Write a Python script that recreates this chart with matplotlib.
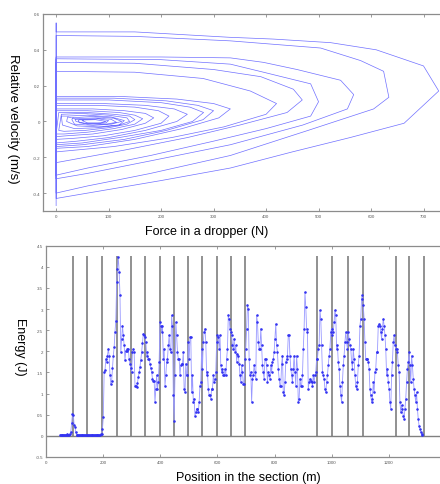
import numpy as np
import matplotlib
matplotlib.use("Agg")
import matplotlib.pyplot as plt

plt.rcParams['font.family'] = ['Liberation Sans', 'DejaVu Sans']

# ---------------- Top chart: phase trajectory (force vs relative velocity) -------------
start_force = [0, 0]
start_velocity = [-0.47, 0.55]

loop1_force = [0, 150, 330, 414, 523, 610, 700, 729, 663, 560, 450, 332, 200, 80, 0]
loop1_velocity = [0.50, 0.50, 0.47, 0.46, 0.44, 0.40, 0.31, 0.17, -0.01, -0.09, -0.17, -0.26, -0.33, -0.39, -0.43]
loop2_force = [0, 150, 332, 504, 580, 624, 634, 605, 480, 332, 180, 60, 0]
loop2_velocity = [0.48, 0.475, 0.45, 0.41, 0.34, 0.28, 0.135, 0.07, -0.05, -0.19, -0.29, -0.36, -0.40]
loop3_force = [0, 200, 332, 395, 459, 542, 567, 555, 470, 332, 180, 60, 0]
loop3_velocity = [0.36, 0.36, 0.355, 0.33, 0.29, 0.23, 0.15, 0.07, -0.02, -0.13, -0.22, -0.29, -0.32]
loop4_force = [0, 200, 332, 395, 485, 500, 485, 400, 300, 180, 60, 0]
loop4_velocity = [0.35, 0.345, 0.32, 0.275, 0.21, 0.11, 0.03, -0.04, -0.11, -0.19, -0.26, -0.30]
loop5_force = [0, 150, 300, 390, 452, 469, 440, 350, 250, 130, 0]
loop5_velocity = [0.33, 0.325, 0.29, 0.25, 0.18, 0.12, 0.05, -0.02, -0.09, -0.16, -0.23]
loop6_force = [0, 150, 280, 370, 420, 400, 320, 220, 110, 0]
loop6_velocity = [0.28, 0.275, 0.24, 0.17, 0.10, 0.04, -0.03, -0.09, -0.14, -0.17]
loop7_force = [0, 120, 230, 300, 332, 310, 240, 150, 60, 0]
loop7_velocity = [0.14, 0.14, 0.125, 0.10, 0.07, 0.02, -0.04, -0.10, -0.14, -0.15]
loop8_force = [0, 110, 210, 270, 300, 280, 210, 130, 50, 0]
loop8_velocity = [0.13, 0.13, 0.115, 0.09, 0.06, 0.01, -0.05, -0.10, -0.13, -0.14]
loop9_force = [0, 100, 200, 255, 281, 260, 200, 120, 50, 0]
loop9_velocity = [0.12, 0.12, 0.105, 0.08, 0.05, 0.0, -0.05, -0.09, -0.12, -0.13]
loop10_force = [0, 90, 170, 225, 250, 230, 170, 100, 40, 0]
loop10_velocity = [0.10, 0.10, 0.09, 0.07, 0.04, 0.0, -0.05, -0.09, -0.11, -0.12]
loop11_force = [0, 80, 150, 195, 215, 200, 150, 90, 30, 0]
loop11_velocity = [0.09, 0.09, 0.08, 0.06, 0.03, -0.01, -0.05, -0.08, -0.095, -0.10]
loop12_force = [0, 70, 130, 170, 186, 170, 125, 70, 20, 0]
loop12_velocity = [0.07, 0.07, 0.06, 0.045, 0.02, -0.01, -0.045, -0.07, -0.08, -0.085]
loop13_force = [0, 60, 120, 150, 165, 150, 110, 60, 15, 0]
loop13_velocity = [0.06, 0.06, 0.05, 0.035, 0.015, -0.015, -0.04, -0.06, -0.07, -0.07]
loop14_force = [5, 60, 110, 140, 150, 135, 100, 55, 15, 5]
loop14_velocity = [0.05, 0.05, 0.04, 0.03, 0.01, -0.015, -0.035, -0.05, -0.055, -0.05]
core1_force = [10, 50, 100, 135, 140, 120, 80, 35, 12, 10]
core1_velocity = [0.04, 0.045, 0.035, 0.02, 0.0, -0.02, -0.035, -0.04, -0.02, 0.03]
core2_force = [20, 60, 105, 130, 120, 80, 40, 20, 22]
core2_velocity = [0.03, 0.035, 0.025, 0.005, -0.02, -0.03, -0.025, 0.0, 0.025]
core3_force = [30, 70, 110, 125, 105, 70, 35, 30, 32]
core3_velocity = [0.02, 0.028, 0.018, 0.0, -0.015, -0.022, -0.015, 0.01, 0.02]
core4_force = [35, 75, 105, 115, 95, 60, 38, 36]
core4_velocity = [0.015, 0.02, 0.012, -0.005, -0.015, -0.015, 0.0, 0.012]
core5_force = [40, 80, 100, 95, 70, 45, 42, 45]
core5_velocity = [0.01, 0.015, 0.005, -0.008, -0.012, -0.008, 0.005, 0.01]
core6_force = [50, 75, 95, 85, 60, 50, 52]
core6_velocity = [0.008, 0.01, 0.0, -0.008, -0.008, 0.004, 0.007]

top_force_ticks = [0, 100, 200, 300, 400, 500, 600, 700]
top_force_labels = ["0", "100", "200", "300", "400", "500", "600", "700"]
top_vel_ticks = [-0.4, -0.2, 0, 0.2, 0.4, 0.6]
top_vel_labels = ["-0.4", "-0.2", "0", "0.2", "0.4", "0.6"]

# ---------------- Bottom chart: energy along the section ------------------------------
energy_start = 49.0      # m, first sample
energy_step = 2.916      # m, sampling step
energy = [
    0.02, 0.03, 0.02, 0.03, 0.02, 0.03, 0.03, 0.02, 0.03, 0.04, 0.03, 0.03, 0.05,
    0.10, 0.30, 0.52, 0.50, 0.25, 0.22, 0.08, 0.03,
    0.02, 0.01, 0.02, 0.02, 0.01, 0.02, 0.02, 0.01, 0.02, 0.02, 0.01, 0.02, 0.02,
    0.01, 0.02, 0.02, 0.01, 0.02, 0.02, 0.01, 0.02,
    0.02, 0.03, 0.02, 0.02, 0.03, 0.02, 0.02, 0.04, 0.05, 0.17,
    0.45, 1.51, 1.55, 1.82, 1.75, 1.90, 2.06, 1.90, 1.43, 1.23, 1.30, 1.60,
    1.90, 2.10, 2.46, 2.73, 3.64, 3.96, 4.23, 3.88, 3.33, 1.98, 2.30, 2.61,
    2.38, 2.14, 1.79, 2.02, 2.02, 2.06, 2.06, 1.82, 1.71, 1.60, 1.51, 1.98,
    2.06, 1.98, 1.19, 1.19, 1.15, 1.25, 1.39, 1.50, 1.63, 1.80, 1.98, 2.20,
    2.42, 2.38, 2.34, 2.22, 1.90, 1.98, 1.82, 1.82, 1.71, 1.60, 1.51, 1.35,
    1.31, 1.31, 0.80, 1.11, 1.43, 1.11, 1.27, 1.75, 2.69, 2.61, 2.46, 2.61,
    1.82, 2.06, 1.19, 1.43, 1.75, 1.82, 2.14, 2.38, 2.06, 1.98, 2.85, 2.60,
    0.96, 0.36, 1.43, 2.69, 2.38, 1.98, 1.82, 1.82, 1.43, 1.67, 1.71, 1.71,
    1.98, 1.11, 1.03, 1.71, 1.43, 1.43, 2.22, 1.82, 2.34, 2.34, 1.03, 1.43,
    0.80, 0.88, 0.48, 0.56, 0.64, 0.64, 0.56, 0.80, 1.19, 1.27, 2.06, 1.59,
    2.22, 2.46, 2.54, 2.22, 1.43, 1.51, 1.11, 0.96, 0.96, 0.88, 1.11, 1.11,
    1.43, 1.27, 1.35, 1.51, 2.22, 2.38, 2.34, 2.06, 2.38, 1.67, 1.51, 1.59,
    1.43, 1.43, 1.59, 1.43, 1.82, 2.06, 2.85, 2.77, 2.54, 2.46, 2.38, 2.14,
    2.06, 2.30, 1.98, 2.14, 1.75, 1.94, 1.90, 1.71, 1.43, 1.27, 1.67, 1.51,
    1.23, 1.23, 1.82, 2.06, 2.54, 3.09, 3.01, 1.82, 1.43, 1.51, 0.80, 1.35,
    1.43, 1.67, 1.51, 1.35, 2.85, 2.69, 2.22, 2.06, 2.06, 2.54, 2.14, 1.67,
    1.51, 1.35, 1.82, 1.82, 1.67, 1.27, 1.51, 1.43, 1.35, 1.67, 1.51, 1.75,
    1.82, 1.98, 2.30, 2.65, 2.14, 1.98, 1.59, 1.35, 1.19, 1.19, 1.71, 1.90,
    1.03, 0.96, 1.27, 1.75, 1.82, 1.90, 2.38, 2.38, 1.90, 1.59, 1.43, 1.27,
    1.59, 1.90, 1.51, 1.19, 1.90, 1.59, 0.80, 0.88, 1.35, 1.19, 1.19, 1.43,
    2.06, 2.54, 3.40, 3.05, 2.54, 2.46, 1.11, 1.27, 1.35, 1.31, 1.27, 1.19,
    1.43, 1.27, 1.43, 1.51, 1.82, 1.82, 2.06, 2.14, 2.97, 2.77, 2.14, 1.51,
    1.43, 1.35, 1.11, 1.03, 1.27, 1.43, 1.67, 1.90, 2.06, 2.46, 2.54, 2.38,
    2.46, 2.69, 2.97, 2.85, 2.06, 2.14, 1.75, 1.59, 1.19, 0.96, 0.80, 1.27,
    1.67, 1.90, 2.22, 2.46, 2.22, 2.06, 2.46, 2.30, 2.14, 2.06, 1.75, 1.59,
    2.06, 1.82, 1.43, 1.19, 1.11, 1.27, 1.67, 1.90, 2.61, 2.77, 3.25, 3.33,
    3.09, 2.77, 2.22, 1.82, 1.82, 1.82, 1.75, 1.59, 1.11, 0.96, 0.80, 0.88,
    1.27, 1.03, 1.51, 1.59, 1.98, 1.98, 2.61, 2.65, 2.61, 2.46, 2.30, 2.54,
    2.77, 2.61, 2.38, 2.06, 1.43, 1.59, 1.27, 1.11, 0.80, 0.64, 1.43, 1.75,
    2.22, 2.38, 2.14, 2.06, 2.06, 1.98, 1.67, 1.51, 0.80, 0.56, 0.72, 0.64,
    0.48, 0.40, 0.64, 0.88, 1.27, 1.59, 1.75, 1.98, 1.67, 1.27, 1.90, 1.67,
    1.35, 1.11, 0.96, 0.80, 1.03, 0.64, 0.40, 0.24, 0.17, 0.09, 0.05, 0.01,
]
dropper_positions = [95, 145, 197, 247, 297, 348, 398, 448, 498, 547, 597, 646, 696,
                     947, 1002, 1057, 1110, 1224, 1272, 1322]
dropper_top = 4.25

bot_pos_ticks = [0, 200, 400, 600, 800, 1000, 1200]
bot_pos_labels = ["0", "200", "400", "600", "800", "1000", "1200"]
bot_energy_ticks = [-0.5, 0, 0.5, 1, 1.5, 2, 2.5, 3, 3.5, 4, 4.5]
bot_energy_labels = ["-0.5", "0", "0.5", "1", "1.5", "2", "2.5", "3", "3.5", "4", "4.5"]

# ---------------- Figure ------------------------------------------------------------
W, H = 440, 485
fig = plt.figure(figsize=(W / 100, H / 100), dpi=100)
fig.patch.set_facecolor('white')

spine_col = (0.55, 0.55, 0.55)
tick_col = (0.35, 0.35, 0.35)


def style_axes(ax):
    for side in ['top', 'bottom', 'left', 'right']:
        ax.spines[side].set_color(spine_col)
        ax.spines[side].set_linewidth(0.9)
    ax.tick_params(direction='in', length=2, width=0.6, colors=spine_col,
                   labelsize=3.2, labelcolor=tick_col, pad=2)
    ax.tick_params(axis='x', top=True, labeltop=False)


# Top axes
ax1 = fig.add_axes([43 / W, 1 - 212 / H, 412 / W, 197 / H])
force_path = list(start_force)
vel_path = list(start_velocity)
for f, v in [(loop1_force, loop1_velocity), (loop2_force, loop2_velocity),
             (loop3_force, loop3_velocity), (loop4_force, loop4_velocity),
             (loop5_force, loop5_velocity), (loop6_force, loop6_velocity),
             (loop7_force, loop7_velocity), (loop8_force, loop8_velocity),
             (loop9_force, loop9_velocity), (loop10_force, loop10_velocity),
             (loop11_force, loop11_velocity), (loop12_force, loop12_velocity),
             (loop13_force, loop13_velocity), (loop14_force, loop14_velocity),
             (core1_force, core1_velocity), (core2_force, core2_velocity),
             (core3_force, core3_velocity), (core4_force, core4_velocity),
             (core5_force, core5_velocity), (core6_force, core6_velocity)]:
    force_path += f
    vel_path += v
ax1.plot(force_path, vel_path, color=(0.2, 0.2, 1.0), lw=0.5, alpha=0.7)
ax1.set_xlim(-25, 760)
ax1.set_ylim(-0.5, 0.6)
ax1.set_xticks(top_force_ticks)
ax1.set_xticklabels(top_force_labels)
ax1.set_yticks(top_vel_ticks)
ax1.set_yticklabels(top_vel_labels)
style_axes(ax1)

# Bottom axes
ax2 = fig.add_axes([46 / W, 1 - 458 / H, 400 / W, 211.3 / H])
ax2.axhline(0, color=(0.5, 0.5, 0.5), lw=1.0, zorder=1)
ax2.vlines(dropper_positions, 0, dropper_top, color=(0.45, 0.45, 0.45), lw=1.1, zorder=1)
positions = energy_start + energy_step * np.arange(len(energy))
ax2.plot(positions, energy, color=(0.6, 0.6, 1.0), lw=0.6, zorder=2)
ax2.plot(positions, energy, linestyle='none', marker='.', ms=1.7,
         color=(0.2, 0.2, 0.95), zorder=3)
ax2.set_xlim(0, 1400)
ax2.set_ylim(-0.5, 4.5)
ax2.set_xticks(bot_pos_ticks)
ax2.set_xticklabels(bot_pos_labels)
ax2.set_yticks(bot_energy_ticks)
ax2.set_yticklabels(bot_energy_labels)
style_axes(ax2)

# Axis titles
fig.text(207 / W, 1 - 232 / H, "Force in a dropper (N)", ha='center', va='center', fontsize=9)
fig.text(13 / W, 1 - 119 / H, "Relative velocity (m/s)", ha='center', va='center',
         rotation=-90, fontsize=9.5)
fig.text(248 / W, 1 - 478 / H, "Position in the section (m)", ha='center', va='center', fontsize=9)
fig.text(20 / W, 1 - 347 / H, "Energy (J)", ha='center', va='center', rotation=-90, fontsize=9)

fig.savefig("out.png", dpi=100, facecolor='white')
